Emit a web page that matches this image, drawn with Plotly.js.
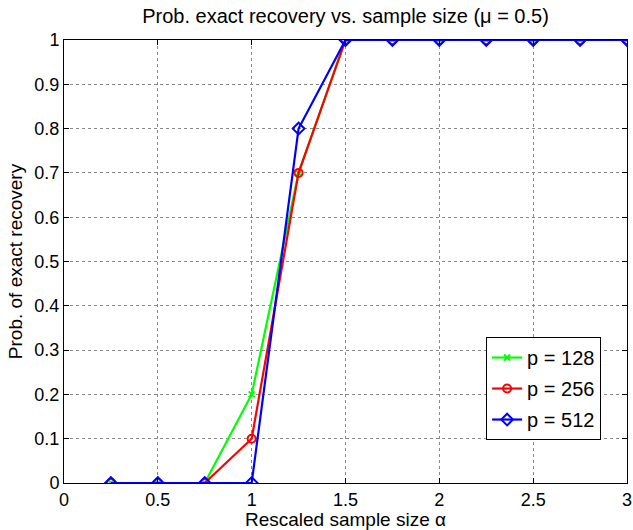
<!DOCTYPE html>
<html><head><meta charset="utf-8">
<script src="https://cdn.plot.ly/plotly-3.0.1.min.js"></script>
<style>body{margin:0;padding:0;background:#fff}#chart{width:633px;height:530px}</style>
</head><body><div id="chart"></div>
<script>
const alpha = [0.25, 0.5, 0.75, 1, 1.25, 1.5, 1.75, 2, 2.25, 2.5, 2.75, 3];
const p128 = [0, 0, 0, 0.2, 0.7, 1, 1, 1, 1, 1, 1, 1];
const p256 = [0, 0, 0, 0.1, 0.7, 1, 1, 1, 1, 1, 1, 1];
const p512 = [0, 0, 0, 0, 0.8, 1, 1, 1, 1, 1, 1, 1];
const xTicks = [0, 0.5, 1, 1.5, 2, 2.5, 3];
const yTicks = [0, 0.1, 0.2, 0.3, 0.4, 0.5, 0.6, 0.7, 0.8, 0.9, 1];

const fam = 'Liberation Sans, Arial, Helvetica, sans-serif';
const font = {family: fam, color: '#000', size: 20};
const traces = [
  {x: alpha, y: p128, name: 'p = 128', mode: 'lines+markers', legendgroup: 'a',
   line: {color: '#00ff00', width: 2.2}, marker: {symbol: 'x-thin-open', size: 6, color: '#00ff00', line: {color: '#00ff00', width: 2}}},
  {x: alpha, y: p256, name: 'p = 256', mode: 'lines+markers', legendgroup: 'b',
   line: {color: '#ff0000', width: 2.2}, marker: {symbol: 'circle-open', size: 8, color: '#ff0000', line: {color: '#ff0000', width: 2}}},
  {x: alpha, y: p512, name: 'p = 512', mode: 'lines+markers', legendgroup: 'c',
   line: {color: '#0000ff', width: 2.2}, marker: {symbol: 'diamond-open', size: 9, color: '#0000ff', line: {color: '#0000ff', width: 2}}}
];
const axisCommon = {
  showline: true, linecolor: '#000', linewidth: 1, mirror: 'ticks',
  ticks: 'inside', ticklen: 5, tickcolor: '#000',
  showgrid: true, gridcolor: '#888', griddash: 'dot', gridwidth: 1,
  zeroline: false, tickfont: {family: fam, size: 18, color: '#000'}
};
const layout = {
  width: 633, height: 530,
  margin: {l: 64, r: 6, t: 40, b: 47},
  paper_bgcolor: '#fff', plot_bgcolor: '#fff',
  font: font,
  title: {text: 'Prob. exact recovery vs. sample size (\u03bc = 0.5)', font: {family: fam, size: 20, color: '#000'},
    xref: 'paper', x: 0.5, xanchor: 'center', yref: 'container', y: 0.97, yanchor: 'middle'},
  xaxis: Object.assign({}, axisCommon, {range: [0, 3], tickvals: xTicks, ticktext: xTicks.map(String),
    title: {text: 'Rescaled sample size \u03b1', font: {family: fam, size: 19, color: '#000'}, standoff: 2}}),
  yaxis: Object.assign({}, axisCommon, {range: [0, 1], tickvals: yTicks, ticktext: yTicks.map(String),
    title: {text: 'Prob. of exact recovery', font: {family: fam, size: 19, color: '#000'}, standoff: 6}}),
  showlegend: true,
  legend: {x: 0.954, xanchor: 'right', y: 0.097, yanchor: 'bottom', bordercolor: '#000', borderwidth: 1, bgcolor: '#fff',
    font: {family: fam, size: 20, color: '#000'}, tracegroupgap: 2}
};
Plotly.newPlot('chart', traces, layout, {displayModeBar: false});
</script></body></html>
